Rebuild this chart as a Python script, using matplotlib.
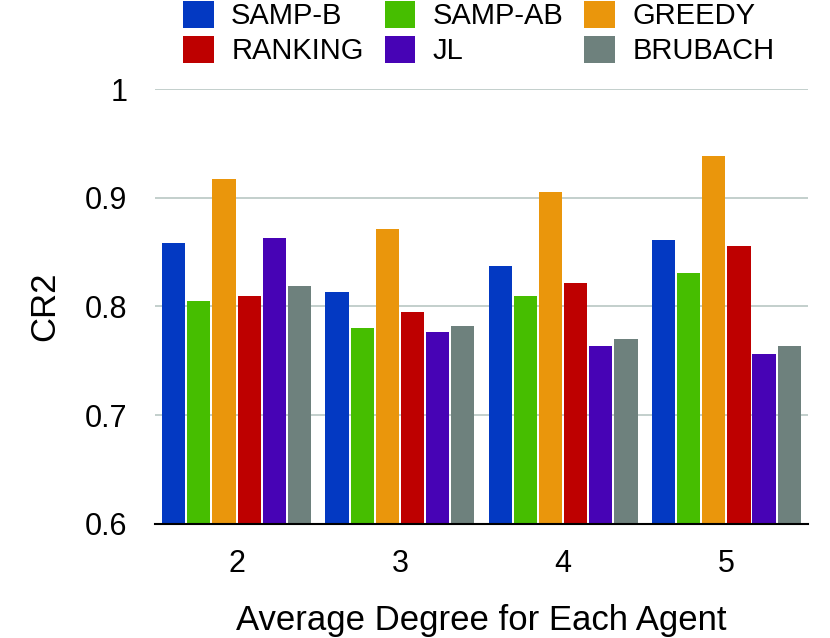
import numpy as np
import matplotlib
matplotlib.use('Agg')
import matplotlib.pyplot as plt

plt.rcParams['font.family'] = ['Liberation Sans', 'DejaVu Sans']

degrees = ['2', '3', '4', '5']
methods = ['SAMP-B', 'SAMP-AB', 'GREEDY', 'RANKING', 'JL', 'BRUBACH']
colors = ['#0339C2', '#46BE00', '#EA960C', '#BE0000', '#4703B5', '#6E817D']

samp_b = [0.858, 0.813, 0.837, 0.861]
samp_ab = [0.805, 0.780, 0.810, 0.831]
greedy = [0.917, 0.871, 0.905, 0.938]
ranking = [0.810, 0.795, 0.822, 0.856]
jl = [0.863, 0.777, 0.764, 0.756]
brubach = [0.819, 0.782, 0.770, 0.764]

values = [samp_b, samp_ab, greedy, ranking, jl, brubach]

fig = plt.figure(figsize=(8.3, 6.38), dpi=100)
ax = fig.add_axes([0.1867, 0.1787, 0.9735 - 0.1867, 0.8605 - 0.1787])

x = np.arange(len(degrees))
step = 0.154
width = 0.142
handles = {}
for i, (name, vals) in enumerate(zip(methods, values)):
    offset = (i - 2.5) * step
    bars = ax.bar(x + offset, np.array(vals) - 0.6, width, bottom=0.6,
                  color=colors[i], label=name, zorder=3)
    handles[name] = bars

ax.set_xlim(-0.5, 3.5)
ax.set_ylim(0.6, 1.0)
ax.set_yticks([0.6, 0.7, 0.8, 0.9, 1.0])
ax.set_yticklabels(['0.6', '0.7', '0.8', '0.9', '1'])
ax.set_xticks(x)
ax.set_xticklabels(degrees)
ax.yaxis.grid(True, color='#B9C7C3', linewidth=1.2, zorder=0)
ax.set_axisbelow(True)
for s in ['top', 'right', 'left']:
    ax.spines[s].set_visible(False)
ax.spines['bottom'].set_color('black')
ax.spines['bottom'].set_linewidth(1.5)
ax.spines['bottom'].set_zorder(4)
ax.tick_params(axis='both', length=0, labelsize=22)
ax.tick_params(axis='y', pad=20)
ax.tick_params(axis='x', pad=18)

ax.set_xlabel('Average Degree for Each Agent', fontsize=25, labelpad=18)
ax.set_ylabel('CR2', fontsize=25, labelpad=17)

# legend laid out column by column: 3 columns x 2 rows
order = ['SAMP-B', 'RANKING', 'SAMP-AB', 'JL', 'GREEDY', 'BRUBACH']
fig.legend([handles[n] for n in order], order, loc='upper left',
           bbox_to_anchor=(183 / 830, 1 - 1 / 638), ncol=3, frameon=False,
           fontsize=21, borderpad=0, borderaxespad=0, handlelength=1.05,
           handleheight=1.05, handletextpad=0.6, columnspacing=0.72,
           labelspacing=0.18)

fig.savefig('out.png', dpi=100)
